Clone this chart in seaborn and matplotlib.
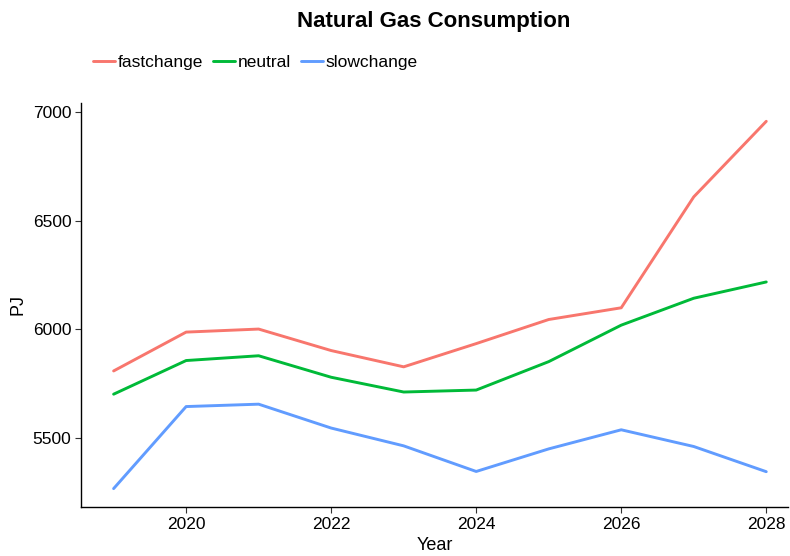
import pandas as pd
import matplotlib.pyplot as plt
import seaborn as sns

# Data
years = [2019, 2020, 2021, 2022, 2023, 2024, 2025, 2026, 2027, 2028]
fastchange = [5808, 5987, 6001, 5902, 5827, 5934, 6045, 6099, 6610, 6958]
neutral = [5701, 5856, 5878, 5779, 5711, 5720, 5851, 6019, 6143, 6218]
slowchange = [5266, 5644, 5655, 5545, 5463, 5345, 5449, 5537, 5460, 5344]

scenarios = ["fastchange", "neutral", "slowchange"]
palette = {"fastchange": "#F8766D", "neutral": "#00BA38", "slowchange": "#619CFF"}

df = pd.DataFrame({
    "Year": years * 3,
    "PJ": fastchange + neutral + slowchange,
    "scenario": ["fastchange"] * len(years) + ["neutral"] * len(years) + ["slowchange"] * len(years),
})

sns.set_style("white")
plt.rcParams["font.family"] = ["Liberation Sans", "DejaVu Sans"]
plt.rcParams["text.color"] = "black"
plt.rcParams["axes.labelcolor"] = "black"

fig = plt.figure(figsize=(7.9, 5.56), dpi=100)
ax = fig.add_axes([0.1025, 0.088, 0.895, 0.727])

sns.lineplot(data=df, x="Year", y="PJ", hue="scenario", hue_order=scenarios,
             palette=palette, linewidth=2.1, ax=ax, legend=False)

ax.set_xlim(2018.55, 2028.3)
ax.set_ylim(5181, 7043)
ax.set_xticks([2020, 2022, 2024, 2026, 2028])
ax.set_yticks([5500, 6000, 6500, 7000])

for side in ["top", "right"]:
    ax.spines[side].set_visible(False)
for side in ["left", "bottom"]:
    ax.spines[side].set_color("black")
    ax.spines[side].set_linewidth(1.0)
ax.tick_params(axis="both", direction="out", length=4, width=0.8, color="#333333",
               labelsize=12.5, labelcolor="black", bottom=True, left=True, pad=3)

ax.set_xlabel("Year", fontsize=13)
ax.set_ylabel("PJ", fontsize=13)

fig.text(0.549, 0.962, "Natural Gas Consumption", fontsize=16, fontweight="bold",
         ha="center", va="center")

handles = [plt.Line2D([], [], color=palette[s], linewidth=2.1) for s in scenarios]
fig.legend(handles, scenarios, loc="center left", bbox_to_anchor=(0.118, 0.887),
           ncol=3, frameon=False, fontsize=12.5, handlelength=1.25, handletextpad=0.15,
           columnspacing=0.6, borderaxespad=0, borderpad=0)

fig.savefig("out.png", dpi=100)
